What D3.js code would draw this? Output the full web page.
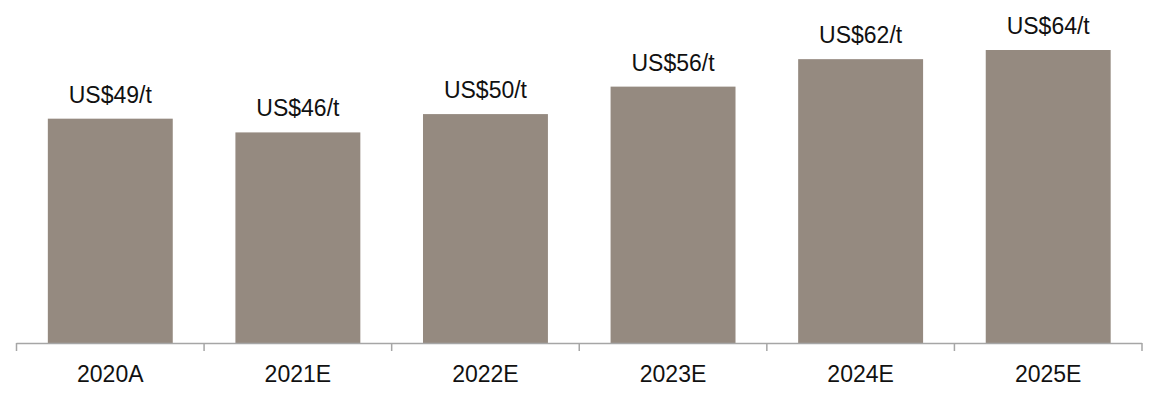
<!DOCTYPE html>
<html>
<head>
<meta charset="utf-8">
<script src="https://cdn.jsdelivr.net/npm/d3@7"></script>
<style>
  body { margin: 0; background: #fff; }
  svg { display: block; }
</style>
</head>
<body>
<svg id="chart" width="1153" height="397"></svg>
<script>
(function () {
    'use strict';

    // data
    const years = ["2020A", "2021E", "2022E", "2023E", "2024E", "2025E"];
    const prices = [49, 46, 50, 56, 62, 64];
    const priceLabels = ["US$49/t", "US$46/t", "US$50/t", "US$56/t", "US$62/t", "US$64/t"];

    const width = 1153;
    const baseY = 343;

    const svg = d3.select('#chart')
        .style("font-family", "'Liberation Sans', Arial, sans-serif");

    const x = d3.scaleBand()
        .domain(years)
        .range([16.5, 1142])
        .paddingInner(0.334)
        .paddingOuter(0.167);

    const y = d3.scaleLinear()
        .domain([0, 64])
        .range([baseY, 50]);

    // bars
    svg.append("g")
        .selectAll("rect")
        .data(prices)
        .join("rect")
        .attr("x", (d, i) => x(years[i]))
        .attr("width", x.bandwidth())
        .attr("y", d => y(d))
        .attr("height", d => y(0) - y(d))
        .attr("fill", "#958a80");

    // value labels
    svg.append("g")
        .attr("text-anchor", "middle")
        .selectAll("text")
        .data(prices)
        .join("text")
        .attr("x", (d, i) => x(years[i]) + x.bandwidth() / 2)
        .attr("y", d => y(d) - 16)
        .attr("font-size", 23)
        .attr("fill", "#111")
        .text((d, i) => priceLabels[i]);

    // axis line with ticks at the band edges
    const step = x.step();
    const x0 = x.range()[0];
    const edges = d3.range(years.length + 1).map(i => x0 + i * step);

    const axis = svg.append("g")
        .attr("stroke", "#a6a6a6")
        .attr("stroke-width", 1.5);

    axis.append("line")
        .attr("x1", edges[0])
        .attr("x2", edges[edges.length - 1])
        .attr("y1", baseY + 0.5)
        .attr("y2", baseY + 0.5);

    axis.selectAll("line.tick")
        .data(edges)
        .join("line")
        .attr("class", "tick")
        .attr("x1", d => d)
        .attr("x2", d => d)
        .attr("y1", baseY)
        .attr("y2", baseY + 8);

    // category labels
    svg.append("g")
        .attr("text-anchor", "middle")
        .selectAll("text")
        .data(years)
        .join("text")
        .attr("x", d => x(d) + x.bandwidth() / 2)
        .attr("y", 382)
        .attr("font-size", 23)
        .attr("fill", "#111")
        .text(d => d);
}());
</script>
</body>
</html>
